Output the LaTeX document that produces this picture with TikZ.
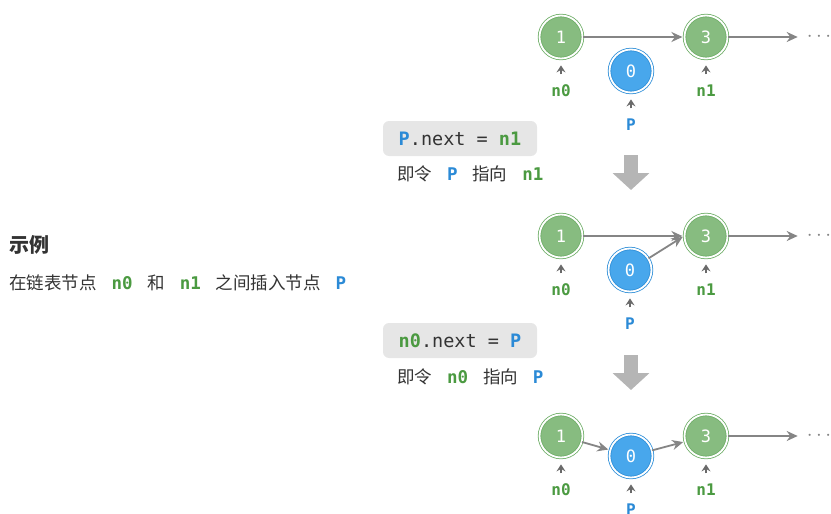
\documentclass[tikz,border=0pt]{standalone}
\usepackage{fontspec}
\setmainfont{Noto Sans CJK SC}
\setmonofont{DejaVu Sans Mono}
\usepackage{xcolor}
\usepackage{tikz}
\usetikzlibrary{arrows.meta, positioning}

\definecolor{gfill}{HTML}{87BC80}
\definecolor{gedge}{HTML}{6FAE68}
\definecolor{bfill}{HTML}{48A7EC}
\definecolor{bedge}{HTML}{2F8FD8}
\definecolor{gtext}{HTML}{4B9A41}
\definecolor{btext}{HTML}{2B8AD6}
\definecolor{linkgray}{HTML}{858585}
\definecolor{stepgray}{HTML}{B5B5B5}
\definecolor{boxgray}{HTML}{E6E6E6}
\definecolor{txtgray}{HTML}{333333}

\newcommand{\vn}[1]{{\ttfamily\bfseries\color{gtext}#1}}
\newcommand{\vp}[1]{{\ttfamily\bfseries\color{btext}#1}}
\newcommand{\wsp}{\hspace{0.85em}}

\begin{document}
\begin{tikzpicture}[
    x=1pt, y=-1pt,
    gnode/.style={circle, fill=gfill, draw=gedge, double=white, double distance=1.8pt, line width=0.8pt, minimum size=43pt, inner sep=0pt, text=white, font=\ttfamily\fontsize{17}{17}\selectfont},
    bnode/.style={gnode, fill=bfill, draw=bedge},
    glab/.style={text=gtext, inner sep=2pt, font=\ttfamily\bfseries\fontsize{16}{16}\selectfont},
    blab/.style={glab, text=btext},
    link/.style={-{Stealth[length=11pt, width=10pt]}, line width=1.8pt, draw=linkgray, shorten >=1.7pt},
    ptr/.style={-{Stealth[length=7pt, width=9pt, inset=2.5pt]}, line width=1.2pt, draw=linkgray!80!black, shorten >=6.5pt, shorten <=8pt},
    dots/.style={text=linkgray, inner sep=0pt, font=\fontsize{20}{20}\selectfont},
    codebox/.style={rectangle, rounded corners=6pt, fill=boxgray, minimum width=154pt, minimum height=35pt, text=txtgray, font=\ttfamily\fontsize{18.5}{18.5}\selectfont},
    note/.style={anchor=west, inner sep=0pt, text=txtgray, font=\fontsize{17.5}{17.5}\selectfont},
    stepdown/.style={line width=14pt, draw=stepgray, -{Triangle[length=17pt, width=36pt]}}
]
\useasboundingbox (0,0) rectangle (831,514);

% Description
\node[note, font=\bfseries\fontsize{20}{20}\selectfont] (title) at (9,245) {示例};
\node[note] (desc) at (9,283) {在链表节点\wsp\vn{n0}\wsp 和\wsp\vn{n1}\wsp 之间插入节点\wsp\vp{P}};

% Row 1
\node[gnode] (a1) at (561,37) {1};
\node[gnode] (b1) at (706,37) {3};
\node[bnode] (p1) at (631,71) {0};
\node[glab, below=23.5pt of a1] (la1) {n0};
\node[glab, below=23.5pt of b1] (lb1) {n1};
\node[blab, below=23.5pt of p1] (lp1) {P};
\node[dots] (d1) at (819,37) {$\cdots$};

\draw[link] (a1) -- (b1);
\draw[link, shorten >=9pt] (b1) -- (d1);
\draw[ptr] (la1) -- (a1);
\draw[ptr] (lb1) -- (b1);
\draw[ptr] (lp1) -- (p1);

% Step 1
\node[codebox] (c1) at (460,138.5) {\vp{P}.next = \vn{n1}};
\node[note] (t1) at (397,174) {即令\wsp\vp{P}\wsp 指向\wsp\vn{n1}};
\coordinate (s1a) at (631,155);
\coordinate (s1b) at (631,190);
\draw[stepdown] (s1a) -- (s1b);

% Row 2
\node[gnode] (a2) at (561,236) {1};
\node[gnode] (b2) at (706,236) {3};
\node[bnode] (p2) at (630,270) {0};
\node[glab, below=23.5pt of a2] (la2) {n0};
\node[glab, below=23.5pt of b2] (lb2) {n1};
\node[blab, below=23.5pt of p2] (lp2) {P};
\node[dots] (d2) at (819,236) {$\cdots$};

\draw[link] (a2) -- (b2);
\draw[link] (p2) -- (b2.west);
\draw[link, shorten >=9pt] (b2) -- (d2);
\draw[ptr] (la2) -- (a2);
\draw[ptr] (lb2) -- (b2);
\draw[ptr] (lp2) -- (p2);

% Step 2
\node[codebox] (c2) at (460,340.5) {\vn{n0}.next = \vp{P}};
\node[note] (t2) at (397,377) {即令\wsp\vn{n0}\wsp 指向\wsp\vp{P}};
\coordinate (s2a) at (631,355);
\coordinate (s2b) at (631,390);
\draw[stepdown] (s2a) -- (s2b);

% Row 3
\node[gnode] (a3) at (561,436) {1};
\node[bnode] (p3) at (631,456) {0};
\node[gnode] (b3) at (706,436) {3};
\node[glab, below=23.5pt of a3] (la3) {n0};
\node[glab, below=23.5pt of b3] (lb3) {n1};
\node[blab, below=23.5pt of p3] (lp3) {P};
\node[dots] (d3) at (819,436) {$\cdots$};

\draw[link] (a3) -- (p3);
\draw[link] (p3) -- (b3);
\draw[link, shorten >=9pt] (b3) -- (d3);
\draw[ptr] (la3) -- (a3);
\draw[ptr] (lb3) -- (b3);
\draw[ptr] (lp3) -- (p3);

\end{tikzpicture}
\end{document}
